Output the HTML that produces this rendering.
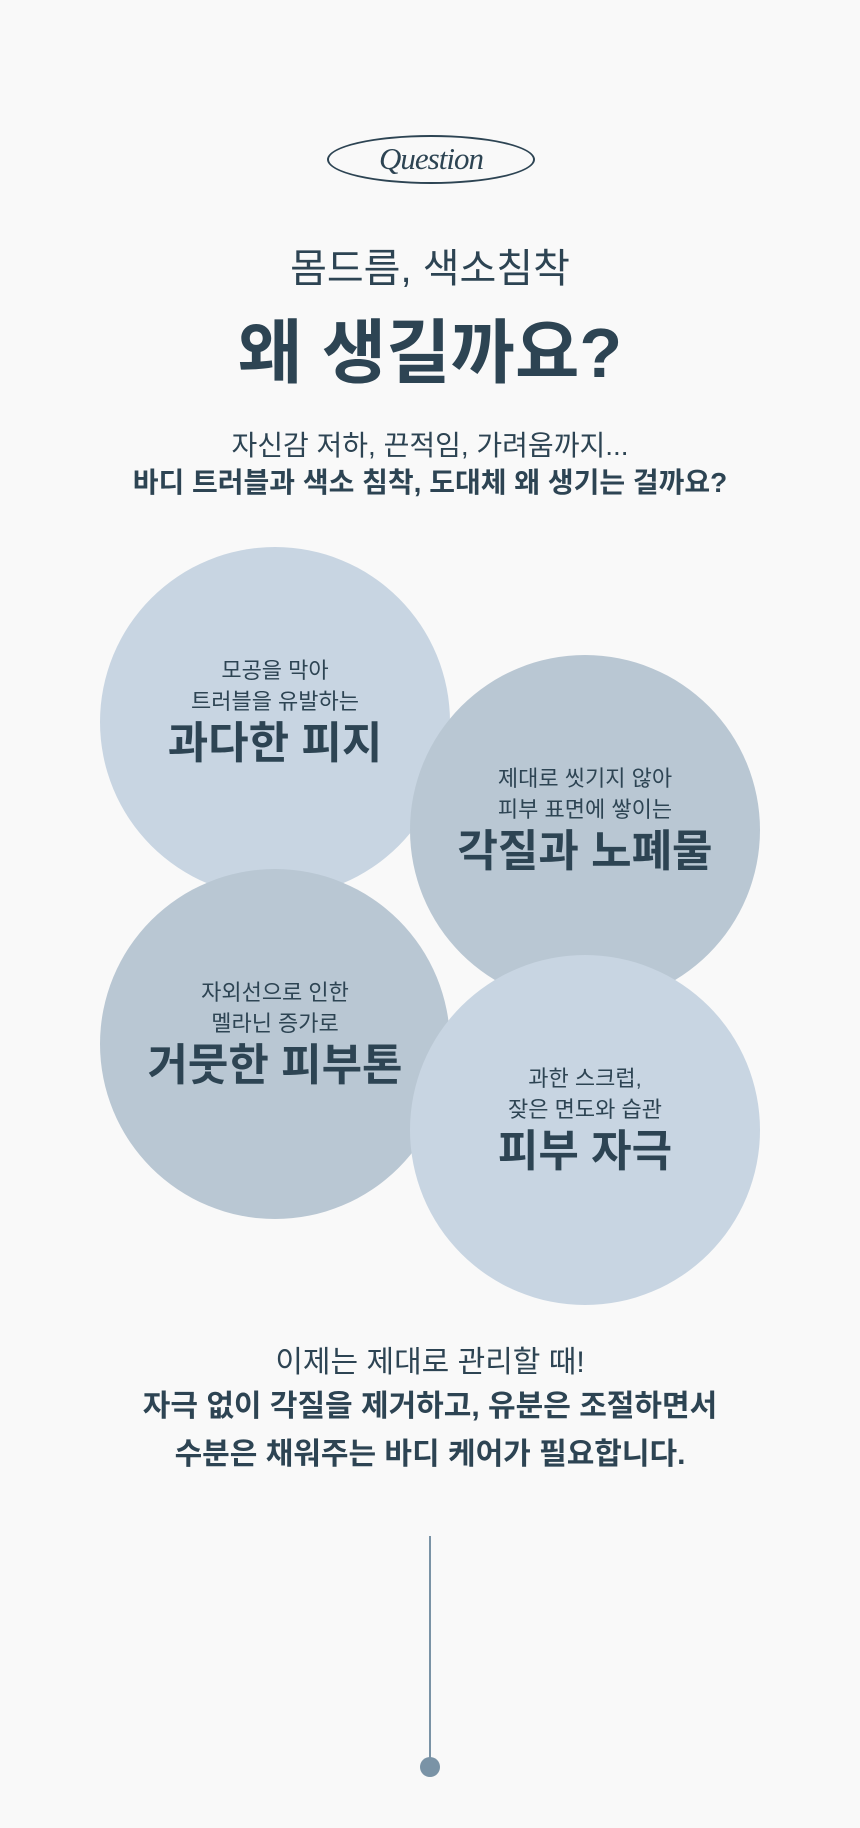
<!DOCTYPE html>
<html><head><meta charset="utf-8"><style>
*{margin:0;padding:0;box-sizing:border-box}
body{width:860px;height:1828px;background:#f9f9f9;position:relative;overflow:hidden;font-family:"Liberation Sans","Noto Sans CJK KR",sans-serif;color:#2d4453}
.a{position:absolute;left:0;width:860px;text-align:center;white-space:nowrap}
.q{position:absolute;left:327px;top:135px;width:208px;height:49px;border:2px solid #2d4453;border-radius:50%;text-align:center;font-family:"Liberation Serif",serif;font-style:italic;font-size:31px;line-height:44px;color:#2d4453;letter-spacing:-1px}
.c{position:absolute;width:350px;height:350px;border-radius:50%;text-align:center}
.c .s{font-size:22px;line-height:31px;margin-top:0}
.c .b{font-size:44px;font-weight:bold;line-height:54px}
.in{position:absolute;left:0;width:350px;top:108px}
</style></head><body>
<div class="q">Question</div>
<div class="a" style="top:244px;font-size:40px;line-height:50px">몸드름, 색소침착</div>
<div class="a" style="top:313px;font-size:70px;font-weight:bold;line-height:80px">왜 생길까요?</div>
<div class="a" style="top:428px;font-size:28px;line-height:36px">자신감 저하, 끈적임, 가려움까지...</div>
<div class="a" style="top:465px;font-size:28px;font-weight:bold;line-height:36px">바디 트러블과 색소 침착, 도대체 왜 생기는 걸까요?</div>
<div class="c" style="left:100px;top:547px;background:#c8d5e2"><div class="in"><div class="s">모공을 막아</div><div class="s">트러블을 유발하는</div><div class="b">과다한 피지</div></div></div>
<div class="c" style="left:410px;top:655px;background:#b9c7d3"><div class="in"><div class="s">제대로 씻기지 않아</div><div class="s">피부 표면에 쌓이는</div><div class="b">각질과 노폐물</div></div></div>
<div class="c" style="left:100px;top:869px;background:#b9c7d3"><div class="in"><div class="s">자외선으로 인한</div><div class="s">멜라닌 증가로</div><div class="b">거뭇한 피부톤</div></div></div>
<div class="c" style="left:410px;top:955px;background:#c8d5e2"><div class="in"><div class="s">과한 스크럽,</div><div class="s">잦은 면도와 습관</div><div class="b">피부 자극</div></div></div>
<div class="a" style="top:1343px;font-size:30px;line-height:40px">이제는 제대로 관리할 때!</div>
<div class="a" style="top:1387px;font-size:30px;font-weight:bold;line-height:40px">자극 없이 각질을 제거하고, 유분은 조절하면서</div>
<div class="a" style="top:1435px;font-size:30px;font-weight:bold;line-height:40px">수분은 채워주는 바디 케어가 필요합니다.</div>
<div style="position:absolute;left:429px;top:1536px;width:2px;height:224px;background:#7a93a6"></div>
<div style="position:absolute;left:420px;top:1757px;width:20px;height:20px;border-radius:50%;background:#7a93a6"></div>
</body></html>
